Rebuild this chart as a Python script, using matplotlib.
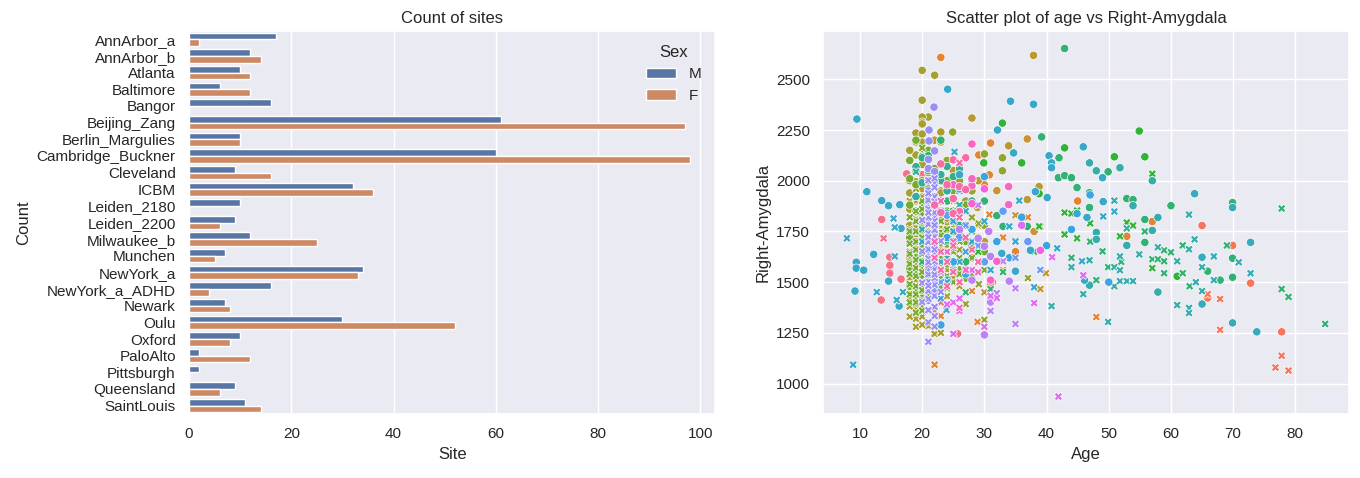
import matplotlib
matplotlib.use("Agg")
import matplotlib.pyplot as plt
import pandas as pd
import seaborn as sns

sites = ["AnnArbor_a", "AnnArbor_b", "Atlanta", "Baltimore", "Bangor", "Beijing_Zang",
         "Berlin_Margulies", "Cambridge_Buckner", "Cleveland", "ICBM", "Leiden_2180",
         "Leiden_2200", "Milwaukee_b", "Munchen", "NewYork_a", "NewYork_a_ADHD", "Newark",
         "Oulu", "Oxford", "PaloAlto", "Pittsburgh", "Queensland", "SaintLouis"]
count_m = [17, 12, 10, 6, 16, 61, 10, 60, 9, 32, 10, 9, 12, 7, 34, 16, 7, 30, 10, 2, 2, 9, 11]
count_f = [2, 14, 12, 12, 0, 97, 10, 98, 16, 36, 0, 6, 25, 5, 33, 4, 8, 52, 8, 12, 0, 6, 14]

# (age, right amygdala) per site and sex
annarbor_a_m = [(13.5, 1809), (17.5, 2034), (14.8, 1623), (14.8, 1583), (14.8, 1544), (16.6, 1515),
                (13.4, 1412), (18, 1485), (25.7, 1245), (31.3, 1500), (20, 2030), (18, 1700),
                (19, 1560), (21, 1620), (22, 1700), (23, 1850), (24, 1480)]
annarbor_a_f = [(13.8, 1716), (22, 1360)]
annarbor_b_m = [(65, 1779), (65.9, 1422), (69.9, 1681), (72.8, 1495), (77.8, 1255), (21, 1880),
                (22, 1760), (20, 1540), (23, 1620), (24, 1700), (19, 1450), (31, 1490)]
annarbor_b_f = [(65.9, 1441), (67.9, 1417), (67.9, 1265), (77.8, 1137), (76.8, 1079), (78.9, 1064),
                (19, 1358), (19, 1333), (20, 1600), (21, 1480), (22, 1720), (23, 1400), (20, 1900),
                (25, 1550)]
atlanta_m = [(23, 2608), (31, 2186), (29.1, 2127), (30, 1980), (52.9, 1726), (57, 1799),
             (30.8, 2029), (27, 1780), (35, 1650), (45, 1900)]
atlanta_f = [(48, 1328), (22, 1093), (22, 1250), (23, 1333), (28, 1456), (28.9, 1304), (30.8, 1833),
             (39, 1466), (26, 1600), (33, 1720), (24, 1520), (37, 1820)]
baltimore_m = [(36.9, 2206), (32, 1951), (36, 1824), (24, 2000), (28, 1620), (38, 1750)]
baltimore_f = [(39.9, 1544), (39, 1466), (26, 1620), (27, 1700), (25, 1900), (22, 1560), (30, 1450),
               (29, 1780), (33, 1560), (35, 1830), (24, 1700), (21, 1480)]
bangor_m = [(37.9, 2618), (33.9, 2172), (36.9, 1907), (38.8, 1971), (28.9, 1868), (28, 2309),
            (26, 1990), (22, 2200), (24, 1850), (25, 2050), (20, 1760), (21, 1820), (23, 1950),
            (30, 1700), (27, 1780), (29, 2000)]
bangor_f = []
beijing_m = [(20, 2544), (22, 2520), (20, 2397), (21, 2314), (20, 2314), (20, 2289), (20, 2280),
             (23, 2240), (19, 2235), (19, 2191), (23, 2191), (19, 2127), (20, 2230), (20, 2190),
             (18, 2150), (19, 2060), (20, 2080), (21, 2040), (18, 2000), (19, 1995), (20, 1960),
             (22, 1990), (18, 1940), (19, 1900), (20, 1920), (21, 1880), (22, 1860), (23, 1940),
             (18, 1860), (19, 1843), (20, 1820), (21, 1800), (22, 1780), (24, 1900), (25, 2010),
             (18, 1780), (19, 1760), (20, 1740), (21, 1720), (23, 1760), (24, 1800), (18, 1700),
             (19, 1680), (20, 1650), (22, 1640), (23, 1690), (18, 1620), (19, 1600), (20, 1580),
             (21, 1560), (24, 1620), (19, 1520), (20, 1500), (22, 1480), (18, 1460), (19, 1430),
             (20, 1400), (23, 1510), (25, 1700), (26, 1860), (19, 1380)]
beijing_f = [(18, 1820), (18, 1760), (18, 1700), (18, 1650), (18, 1600), (18, 1560), (18, 1520),
             (18, 1470), (18, 1420), (18, 1380), (19, 1810), (19, 1770), (19, 1720), (19, 1680),
             (19, 1640), (19, 1590), (19, 1550), (19, 1510), (19, 1470), (19, 1420), (19, 1390),
             (19, 1320), (20, 1850), (20, 1790), (20, 1750), (20, 1700), (20, 1660), (20, 1610),
             (20, 1570), (20, 1520), (20, 1480), (20, 1440), (20, 1380), (20, 1330), (21, 1830),
             (21, 1770), (21, 1690), (21, 1640), (21, 1590), (21, 1520), (21, 1460), (21, 1410),
             (21, 1284), (22, 1800), (22, 1730), (22, 1650), (22, 1600), (22, 1540), (22, 1430),
             (22, 1245), (23, 1750), (23, 1680), (23, 1620), (23, 1560), (23, 1250), (23, 1470),
             (24, 1700), (24, 1640), (24, 1560), (24, 1500), (24, 1430), (25, 1780), (25, 1600),
             (25, 1520), (26, 1660), (26, 1480), (19, 1900), (20, 1920), (18, 1900), (21, 1950),
             (20, 2000), (19, 1960), (22, 1880), (23, 1820), (24, 1780), (18, 1330), (19, 1280),
             (20, 1290), (20, 2140), (19, 2060)]
berlin_m = [(24.9, 2240), (30, 2132), (32.9, 2113), (32.9, 2049), (26, 2000), (27, 1900), (25, 1850),
            (28, 1950), (24, 2100), (30, 1780)]
berlin_f = [(28, 1819), (29.1, 1789), (29.1, 1549), (29.1, 1490), (30, 1314), (27, 1392), (37, 1520),
            (26, 1700), (25, 1650), (33, 1600)]
cambridge_m = [(18, 2100), (19, 2050), (20, 2000), (21, 1960), (22, 1920), (18, 1880), (19, 1850),
               (20, 1830), (21, 1790), (22, 1760), (23, 1740), (18, 1720), (19, 1700), (20, 1690),
               (21, 1660), (22, 1640), (23, 1610), (24, 1590), (18, 1570), (19, 1550), (20, 1530),
               (21, 1510), (22, 1490), (23, 1470), (19, 1450), (20, 1420), (24, 1850), (25, 1800),
               (26, 1750), (27, 1700), (28, 1680), (29, 1720), (30, 1650), (25, 1950), (26, 2050),
               (27, 1880), (24, 2000), (23, 2080), (21, 2150), (19, 2200), (20, 2120), (22, 2060),
               (18, 2010), (19, 1980), (20, 1890), (21, 1860), (22, 1820), (23, 1900), (24, 1760),
               (25, 1600), (26, 1560), (27, 1520), (20, 1600), (19, 1620), (21, 1580), (22, 1540),
               (23, 1560), (18, 1480), (20, 1780), (21, 1700)]
cambridge_f = [(18, 1750), (18, 1690), (18, 1640), (18, 1590), (18, 1540), (18, 1490), (18, 1440),
               (18, 1400), (19, 1850), (19, 1800), (19, 1750), (19, 1700), (19, 1660), (19, 1610),
               (19, 1570), (19, 1530), (19, 1480), (19, 1440), (19, 1400), (19, 1350), (20, 2162),
               (20, 1900), (20, 1860), (20, 1810), (20, 1770), (20, 1720), (20, 1680), (20, 1640),
               (20, 1590), (20, 1550), (20, 1500), (20, 1460), (20, 1410), (20, 1360), (21, 1870),
               (21, 1810), (21, 1750), (21, 1710), (21, 1650), (21, 1610), (21, 1550), (21, 1500),
               (21, 1440), (22, 1830), (22, 1770), (22, 1710), (22, 1670), (22, 1610), (22, 1570),
               (22, 1500), (22, 1450), (23, 1800), (23, 1730), (23, 1660), (23, 1590), (23, 1520),
               (24, 1760), (24, 1680), (24, 1600), (24, 1530), (24, 1470), (25, 1740), (25, 1670),
               (25, 1580), (25, 1500), (26, 1700), (26, 1620), (26, 1540), (27, 1650), (27, 1580),
               (28, 1620), (28, 1540), (29, 1600), (30, 1560), (19, 1920), (18, 1820)]
cleveland_m = [(54.9, 2245), (42.9, 2162), (50.9, 2118), (55.8, 2118), (32.9, 2284), (36, 2088),
               (29.9, 2088), (38.8, 1936), (61, 1529)]
cleveland_f = [(57, 2034), (42.9, 1843), (44, 1838), (44.9, 1853), (52.9, 1794), (53.9, 1779),
               (39, 1775), (42.9, 1740), (42.9, 1735), (44.9, 1716), (51.8, 1726), (57, 1569),
               (38.8, 1775), (35, 1706), (47, 1790), (29, 1650)]
icbm_m = [(42.9, 2652), (42, 2113), (39.2, 2216), (41.9, 2015), (42.9, 2025), (44, 2015), (44.9, 1966),
          (46.9, 1941), (49.9, 2044), (46.9, 1868), (52.9, 1912), (53.9, 1907), (60, 1877),
          (69.9, 1892), (55.8, 1809), (55.8, 1696), (65.9, 1554), (67.9, 1510), (69.9, 1618),
          (69.9, 1524), (32, 1828), (36.9, 1775), (33, 1775), (21, 2123), (22, 1980), (24, 1900),
          (26, 1850), (28, 2000), (23, 2200), (25, 1750), (27, 1600), (30, 1900)]
icbm_f = [(77.8, 1863), (55.8, 1750), (49, 1652), (49.9, 1574), (48, 1510), (57, 1613), (57.9, 1613),
          (58.9, 1603), (58.9, 1544), (58.9, 1657), (60, 1647), (61.9, 1681), (61.9, 1544), (69, 1681),
          (77.8, 1466), (78.9, 1427), (84.8, 1294), (35, 1706), (31, 1466), (20, 1600), (22, 1550),
          (24, 1700), (26, 1500), (28, 1750), (30, 1600), (21, 1800), (23, 1650), (25, 1850),
          (27, 1450), (29, 1700), (33, 1550), (38, 1650), (44, 1620), (47, 1700), (52, 1600),
          (63, 1480)]
leiden_2180_m = [(19, 2069), (20, 2113), (21, 2050), (23, 2000), (24, 1840), (25, 2020), (26, 1780),
                 (22, 1920), (24, 2070), (27, 1960)]
leiden_2180_f = []
leiden_2200_m = [(19, 1922), (20, 1990), (21, 1850), (22, 1780), (23, 2030), (24, 1950), (26, 2060),
                 (25, 1700), (28, 1900)]
leiden_2200_f = [(19, 2044), (20, 1760), (22, 1700), (24, 1620), (26, 1880), (27, 1560)]
milwaukee_m = [(46.9, 2088), (48, 2049), (51.8, 2064), (57, 2000), (53.9, 1877), (57.9, 1819),
               (57, 1755), (48, 1745), (48, 1711), (52.9, 1681), (46.9, 1485), (57.9, 1451)]
milwaukee_f = [(50.9, 1902), (52.9, 1765), (46.9, 1608), (44, 1574), (45.9, 1441), (49.9, 1304),
               (50.9, 1574), (51.8, 1559), (51.8, 1627), (50.9, 1480), (51.8, 1505), (52.9, 1505),
               (53.9, 1505), (54.9, 1637), (57.9, 1672), (61, 1603), (61, 1387), (62.9, 1373),
               (62.9, 1348), (62.9, 1662), (63.8, 1711), (65, 1574), (65, 1456), (62.9, 1833),
               (40.8, 1382)]
munchen_m = [(63.8, 1936), (65, 1623), (65, 1392), (69.9, 1868), (69.9, 1299), (72.8, 1696),
             (73.8, 1255)]
munchen_f = [(66.9, 1627), (66.9, 1510), (70.9, 1598), (72.8, 1544), (64, 1500)]
newyork_a_m = [(9.5, 2304), (11.1, 1946), (13.5, 1902), (14.6, 1877), (16.4, 1882), (12.2, 1637),
               (9.4, 1598), (9.4, 1569), (10.6, 1559), (9.2, 1456), (14.6, 1505), (16.3, 1382),
               (16.6, 1765), (24.1, 2451), (34.2, 2392), (37.9, 2377), (32.1, 2250), (34.7, 2137),
               (38.2, 1946), (40.1, 1917), (40.4, 2123), (40.8, 2088), (40.8, 2064), (45.9, 2167),
               (49, 2015), (49.1, 1897), (44.9, 1838), (46.5, 1819), (46.1, 1510), (24.1, 1510),
               (32.8, 1642), (35, 1554), (37.4, 1657), (26, 2030)]
newyork_a_f = [(7.9, 1716), (15.4, 1814), (15.6, 1770), (12.7, 1451), (15.6, 1627), (15.9, 1412),
               (16.9, 1451), (8.9, 1093), (25.2, 2142), (35.6, 1902), (34, 1775), (50.9, 1848),
               (49.1, 1824), (41.7, 1667), (45.7, 1603), (20, 1700), (21, 1550), (22, 1800),
               (23, 1900), (24, 1650), (25, 1750), (26, 1600), (27, 1850), (28, 1700), (29, 1550),
               (30, 1800), (22, 1450), (23, 1600), (26, 1950), (24, 1500), (23.9, 1363), (38, 1475),
               (31, 1560)]
newyork_adhd_m = [(21, 1880), (22, 1560), (23, 1289), (24, 1720), (25, 1600), (26, 1960), (27, 1540),
                  (28, 1760), (30, 2020), (32, 1700), (34, 1620), (36, 1820), (40, 1680), (44, 1760),
                  (47, 1930), (50, 1500)]
newyork_adhd_f = [(23, 1420), (25, 1800), (27, 1650), (35, 1700)]
newark_m = [(22, 1900), (24, 1830), (26, 1720), (28, 2000), (30, 1600), (33, 1850), (37, 1700)]
newark_f = [(21, 1600), (23, 1500), (25, 1560), (27, 1780), (29, 1680), (31, 1420), (35, 1620),
            (39, 1560)]
oulu_m = [(21.9, 2363), (21.1, 2250), (21.1, 2196), (22, 2147), (21, 2060), (21, 2000), (22, 1985),
          (21, 1950), (22, 1910), (21, 1865), (22, 1830), (21, 1790), (22, 1745), (21, 1705),
          (22, 1670), (21, 1625), (22, 1590), (21, 1540), (22, 1505), (21, 1465), (21, 2105),
          (22, 2045), (22, 1705), (21, 1905), (22, 1630), (21, 1565), (22, 1455), (21, 1410),
          (22, 1860), (21, 1660)]
oulu_f = [(21, 1206), (22, 1333), (21, 1302), (22, 1378), (21, 1418), (22, 1432), (21, 1457),
          (22, 1486), (21, 1503), (22, 1521), (21, 1538), (22, 1563), (21, 1584), (22, 1602),
          (21, 1617), (22, 1645), (21, 1662), (22, 1679), (21, 1698), (22, 1724), (21, 1741),
          (22, 1757), (21, 1785), (22, 1802), (21, 1819), (22, 1843), (21, 1861), (22, 1876),
          (21, 1904), (22, 1921), (21, 1938), (22, 1967), (21, 2002), (22, 2012), (20, 1652),
          (23, 1703), (20, 1497), (23, 1548), (20, 1806), (23, 1852), (21, 1362), (22, 1281),
          (21, 1482), (22, 1537), (21, 1598), (22, 1661), (21, 1722), (22, 1781), (21, 1843),
          (22, 1897), (23, 1452), (20, 1402)]
oxford_m = [(28, 1510), (29, 1716), (30, 1677), (31, 1627), (30.7, 1750), (30, 1240), (34, 1505),
            (31, 1402), (26, 1760), (27, 1960)]
oxford_f = [(33, 1603), (35, 1470), (35, 1294), (32, 1446), (32, 1417), (31, 1358), (25, 1402),
            (29, 1880)]
paloalto_m = [(26, 1850), (36, 1780)]
paloalto_f = [(30, 1280), (25, 1245), (32, 1422), (38, 1397), (40.9, 1623), (45.9, 1534), (26, 1358),
              (25, 1400), (26, 1420), (24, 1390), (31, 1432), (28, 1560), (41.9, 936)]
pittsburgh_m = [(39, 1657), (30, 1960)]
pittsburgh_f = []
queensland_m = [(28, 2181), (28, 1975), (28, 2010), (33.9, 1971), (33.9, 1882), (28, 1887), (32, 1603),
                (31, 1510), (25, 1980)]
queensland_f = [(26, 1373), (29, 1549), (25, 1700), (24, 1650), (27, 1560), (23, 1900)]
saintlouis_m = [(23, 2083), (24, 1980), (25, 2103), (26, 1971), (22, 1880), (27, 2113), (25, 1912),
                (27, 1956), (26, 1848), (25, 1838), (23, 1843)]
saintlouis_f = [(22, 1700), (23, 1650), (24, 1600), (25, 1550), (26, 1500), (22, 1620), (23, 1560),
                (24, 1480), (25, 1680), (26, 2088), (27, 1720), (28, 1660), (26, 1819), (29, 1600)]

scatter_sets = [
    (annarbor_a_m, annarbor_a_f), (annarbor_b_m, annarbor_b_f), (atlanta_m, atlanta_f),
    (baltimore_m, baltimore_f), (bangor_m, bangor_f), (beijing_m, beijing_f),
    (berlin_m, berlin_f), (cambridge_m, cambridge_f), (cleveland_m, cleveland_f),
    (icbm_m, icbm_f), (leiden_2180_m, leiden_2180_f), (leiden_2200_m, leiden_2200_f),
    (milwaukee_m, milwaukee_f), (munchen_m, munchen_f), (newyork_a_m, newyork_a_f),
    (newyork_adhd_m, newyork_adhd_f), (newark_m, newark_f), (oulu_m, oulu_f),
    (oxford_m, oxford_f), (paloalto_m, paloalto_f), (pittsburgh_m, pittsburgh_f),
    (queensland_m, queensland_f), (saintlouis_m, saintlouis_f),
]

rows = []
for site, (males, females) in zip(sites, scatter_sets):
    for age, val in males:
        rows.append((site, "M", age, val))
    for age, val in females:
        rows.append((site, "F", age, val))
scatter_df = pd.DataFrame(rows, columns=["Site", "Sex", "Age", "Right-Amygdala"])

bars_df = pd.DataFrame({"Site": sites * 2,
                        "Count": count_m + count_f,
                        "Sex": ["M"] * len(sites) + ["F"] * len(sites)})

sns.set_theme()
plt.rcParams["font.family"] = ["Liberation Sans", "DejaVu Sans"]
fig, (ax1, ax2) = plt.subplots(1, 2, figsize=(13.6, 4.78))

sns.barplot(data=bars_df, x="Count", y="Site", hue="Sex", hue_order=["M", "F"], ax=ax1)
ax1.set_title("Count of sites")
ax1.set_xlabel("Site")
ax1.set_ylabel("Count")
ax1.set_xticks(range(0, 101, 20))
sns.move_legend(ax1, "upper right", frameon=False)

sns.scatterplot(data=scatter_df, x="Age", y="Right-Amygdala", hue="Site", hue_order=sites,
                palette=sns.color_palette("husl", len(sites)), style="Sex",
                style_order=["M", "F"], markers={"M": "o", "F": "X"}, legend=False, ax=ax2)
ax2.set_title("Scatter plot of age vs Right-Amygdala")
ax2.set_xticks(range(10, 81, 10))
ax2.set_yticks(range(1000, 2501, 250))

plt.subplots_adjust(left=0.139, right=0.992, bottom=0.134, top=0.935, wspace=0.205)
fig.savefig("out.png", dpi=100)
